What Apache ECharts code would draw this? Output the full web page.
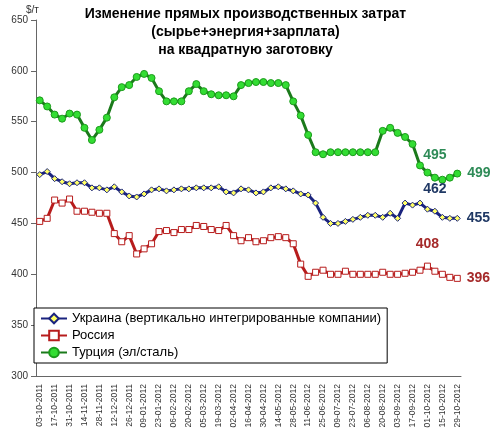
<!DOCTYPE html>
<html><head><meta charset="utf-8">
<script src="https://cdn.jsdelivr.net/npm/echarts@6/dist/echarts.min.js"></script>
<style>html,body{margin:0;background:#fff}#c{width:491px;height:442px}</style>
</head><body><div id="c"></div>
<script>
var dates = ['03-10-2011','10-10-2011','17-10-2011','24-10-2011','31-10-2011','07-11-2011','14-11-2011','21-11-2011','28-11-2011','05-12-2011','12-12-2011','19-12-2011','26-12-2011','02-01-2012','09-01-2012','16-01-2012','23-01-2012','30-01-2012','06-02-2012','13-02-2012','20-02-2012','27-02-2012','05-03-2012','12-03-2012','19-03-2012','26-03-2012','02-04-2012','09-04-2012','16-04-2012','23-04-2012','30-04-2012','07-05-2012','14-05-2012','21-05-2012','28-05-2012','04-06-2012','11-06-2012','18-06-2012','25-06-2012','02-07-2012','09-07-2012','16-07-2012','23-07-2012','30-07-2012','06-08-2012','13-08-2012','20-08-2012','27-08-2012','03-09-2012','10-09-2012','17-09-2012','24-09-2012','01-10-2012','08-10-2012','15-10-2012','22-10-2012','29-10-2012'];
var ukraine = [498,501,494,491,489,490,490,485,485,483,486,481,477,476,479,483,484,482,483,484,484,485,485,485,486,481,480,484,483,480,481,485,486,484,482,479,478,470,456,450,450,452,454,456,458,458,456,460,455,470,468,470,464,462,456,455,455];
var russia = [452,455,473,470,474,462,462,461,460,460,440,432,438,420,425,430,442,443,441,444,444,448,447,444,443,448,438,433,436,432,433,436,437,436,430,410,398,402,404,400,400,403,400,400,400,400,402,400,400,401,402,404,408,403,400,397,396];
var turkey = [571,565,557,553,558,557,544,532,542,554,574,584,586,594,597,593,580,570,570,570,580,587,580,577,576,576,575,586,588,589,589,588,588,586,570,556,537,520,518,520,520,520,520,520,520,520,541,544,539,535,528,507,500,495,493,495,499];
var names = ['Украина (вертикально интегрированные компании)', 'Россия', 'Турция (эл/сталь)'];

function lab(arr, idx, color) {
  return arr.map(function (v, i) {
    var p = idx[i];
    if (!p) return v;
    return { value: v, label: { show: true, position: p, color: color, fontSize: 14, fontWeight: 'bold', fontFamily: 'Arial', distance: p === 'right' ? 6 : 12 } };
  });
}

var chart = echarts.init(document.getElementById('c'));
chart.setOption({
  animation: false,
  title: {
    text: 'Изменение прямых производственных затрат\n(сырье+энергия+зарплата)\nна квадратную заготовку',
    left: 'center', top: 0,
    textStyle: { fontSize: 14, fontWeight: 'bold', fontFamily: 'Arial', lineHeight: 18, color: '#000' }
  },
  legend: {
    orient: 'vertical', left: 34, top: 308, itemGap: 4,
    borderColor: '#000', borderWidth: 1, padding: [4, 6],
    backgroundColor: '#fff',
    itemWidth: 26, itemHeight: 12,
    textStyle: { fontSize: 13, fontFamily: 'Arial', color: '#000' },
    data: names
  },
  grid: { left: 36, right: 30, top: 20, bottom: 66 },
  xAxis: {
    type: 'category', data: dates, boundaryGap: true,
    axisLine: { lineStyle: { color: '#666' } },
    axisTick: { interval: 0, lineStyle: { color: '#666' } },
    axisLabel: { rotate: 90, interval: 1, fontSize: 8.5, color: '#333', fontFamily: 'Arial' }
  },
  yAxis: {
    type: 'value', min: 300, max: 650, interval: 50,
    name: '$/т', nameGap: 4, nameTextStyle: { align: 'left', fontSize: 10, color: '#333', padding: [0, 0, 0, -10] },
    axisLine: { show: true, lineStyle: { color: '#666' } },
    axisTick: { show: true },
    splitLine: { show: false },
    axisLabel: { fontSize: 10, color: '#333', fontFamily: 'Arial' }
  },
  series: [
    { name: names[0], type: 'line', showAllSymbol: true, data: lab(ukraine, { 53: 'top', 56: 'right' }, '#1f3864'),
      lineStyle: { color: '#1a237e', width: 3 }, symbol: 'diamond', symbolSize: 6,
      itemStyle: { color: '#ffff66', borderColor: '#1a237e', borderWidth: 1 } },
    { name: names[1], type: 'line', showAllSymbol: true, data: lab(russia, { 52: 'top', 56: 'right' }, '#a52a2a'),
      lineStyle: { color: '#b71c1c', width: 3 }, symbol: 'rect', symbolSize: 6,
      itemStyle: { color: '#fff', borderColor: '#b71c1c', borderWidth: 1 } },
    { name: names[2], type: 'line', showAllSymbol: true, data: lab(turkey, { 53: 'top', 56: 'right' }, '#2e8b57'),
      lineStyle: { color: '#1b7a1b', width: 3 }, symbol: 'circle', symbolSize: 7,
      itemStyle: { color: '#33dd33', borderColor: '#1b9a1b', borderWidth: 1 } }
  ]
});
</script></body></html>
